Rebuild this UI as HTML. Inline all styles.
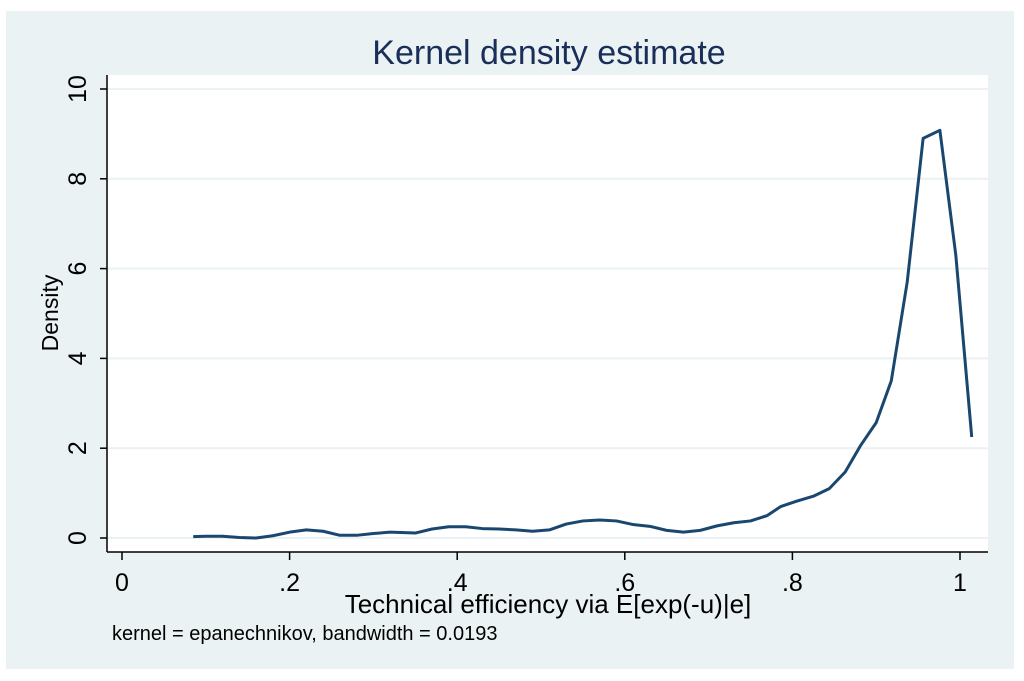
<!DOCTYPE html>
<html><head><meta charset="utf-8"><style>
html,body{margin:0;padding:0;background:#fff;width:1024px;height:681px;overflow:hidden}
svg{display:block;font-family:"Liberation Sans",sans-serif}
</style></head><body>
<svg width="1024" height="681">
<rect x="6" y="11" width="1008" height="658" fill="#eaf2f3"/>
<rect x="107" y="75" width="881" height="477" fill="#fff"/>
<text x="549" y="64" text-anchor="middle" font-size="34" fill="#1a2e5a">Kernel density estimate</text>
<g id="grid"></g><g id="axes"></g>
<polyline id="line" fill="none" stroke="#1a476f" stroke-width="3" stroke-linejoin="round"/>
<text x="548" y="613" text-anchor="middle" font-size="26" fill="#000">Technical efficiency via E[exp(-u)|e]</text>
<text transform="translate(58,313) rotate(-90)" text-anchor="middle" font-size="23" fill="#000">Density</text>
<text x="112" y="640" font-size="20" fill="#000">kernel = epanechnikov, bandwidth = 0.0193</text>
</svg>
<script>
const xs=[0.085,0.1,0.12,0.14,0.16,0.18,0.2,0.22,0.24,0.26,0.28,0.3,0.32,0.35,0.37,0.39,0.41,0.43,0.45,0.47,0.49,0.51,0.53,0.55,0.57,0.59,0.61,0.63,0.65,0.67,0.69,0.71,0.73,0.75,0.77,0.786,0.805,0.825,0.844,0.863,0.881,0.9,0.918,0.937,0.956,0.976,0.995,1.014];
const ys=[0.03,0.04,0.04,0.01,0.0,0.05,0.13,0.18,0.15,0.06,0.06,0.1,0.13,0.11,0.2,0.25,0.25,0.21,0.2,0.18,0.15,0.18,0.31,0.38,0.4,0.38,0.3,0.26,0.17,0.13,0.17,0.27,0.34,0.38,0.5,0.7,0.82,0.93,1.1,1.47,2.05,2.57,3.5,5.7,8.9,9.08,6.3,2.25];
const xTicks=[0,0.2,0.4,0.6,0.8,1];
const xLabels=["0",".2",".4",".6",".8","1"];
const yTicks=[0,2,4,6,8,10];
const sx=v=>122+v*838, sy=v=>538-v*44.9;
const NS="http://www.w3.org/2000/svg";
const g=document.getElementById('grid'),a=document.getElementById('axes');
function mk(t,at,p){const e=document.createElementNS(NS,t);for(const k in at)e.setAttribute(k,at[k]);p.appendChild(e);return e;}
yTicks.forEach(v=>{
 const l=mk('line',{x1:108,x2:988,y1:sy(v),y2:sy(v),stroke:'#eaf2f3','stroke-width':2},g);
 
 
 const t=mk('line',{x1:100,x2:107,y1:sy(v),y2:sy(v),stroke:'#000','stroke-width':1.5},a);
 
 
 const tx=mk('text',{transform:`translate(86,${sy(v)}) rotate(-90)`,'text-anchor':'middle','font-size':25},a);
 tx.textContent=v;
 
 
});
xTicks.forEach((v,i)=>{
 const t=mk('line',{x1:sx(v),x2:sx(v),y1:552,y2:560,stroke:'#000','stroke-width':1.5},a);
 
 
 const tx=mk('text',{x:sx(v),y:591,'text-anchor':'middle','font-size':25},a);
 tx.textContent=xLabels[i];
 
 
});
mk('line',{x1:107,x2:107,y1:75,y2:552,stroke:'#000','stroke-width':1.5},a);
mk('line',{x1:107,x2:988,y1:552,y2:552,stroke:'#000','stroke-width':1.5},a);
document.getElementById('line').setAttribute('points',xs.map((x,i)=>sx(x)+','+sy(ys[i])).join(' '));
</script>
</body></html>
